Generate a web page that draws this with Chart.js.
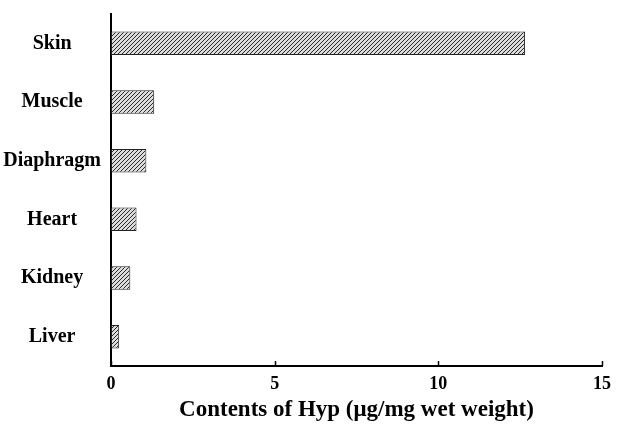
<!DOCTYPE html>
<html>
<head>
<meta charset="utf-8">
<script src="https://cdn.jsdelivr.net/npm/chart.js@4/dist/chart.umd.min.js"></script>
<style>
  html, body { margin: 0; padding: 0; background: #fff; }
  #wrap { width: 619px; height: 424px; }
</style>
</head>
<body>
<div id="wrap"><canvas id="hypChart" width="619" height="424"></canvas></div>
<script>
'use strict';

// tissues, top to bottom
var tissues = ['Skin', 'Muscle', 'Diaphragm', 'Heart', 'Kidney', 'Liver'];
// Hyp content, ug/mg wet weight
var hypValues = [12.65, 1.32, 1.08, 0.78, 0.59, 0.25];
var xTicks = [0, 5, 10, 15];
var xTitle = 'Contents of Hyp (\u03bcg/mg wet weight)';

var serif = '"Liberation Serif", "Times New Roman", serif';

// diagonal hatch for the bars
function makeHatch() {
  var c = document.createElement('canvas');
  c.width = 4; c.height = 4;
  var g = c.getContext('2d');
  g.fillStyle = '#dcdcdc';
  g.fillRect(0, 0, 4, 4);
  g.strokeStyle = '#2a2a2a';
  g.lineWidth = 1;
  g.beginPath();
  g.moveTo(0, 4); g.lineTo(4, 0);
  g.moveTo(-1, 1); g.lineTo(1, -1);
  g.moveTo(3, 5); g.lineTo(5, 3);
  g.stroke();
  return g.createPattern(c, 'repeat');
}

// small inward tick marks on the x axis
var innerTicks = {
  id: 'innerTicks',
  afterDraw: function(chart) {
    var sx = chart.scales.x;
    var ctx = chart.ctx;
    ctx.save();
    ctx.strokeStyle = '#000';
    ctx.lineWidth = 1.5;
    xTicks.forEach(function(v) {
      var px = Math.round(sx.getPixelForValue(v)) + 0.5;
      ctx.beginPath();
      ctx.moveTo(px, sx.top);
      ctx.lineTo(px, sx.top - 5);
      ctx.stroke();
    });
    ctx.restore();
  }
};

var ctx = document.getElementById('hypChart');
var hypChart = new Chart(ctx, {
  type: 'bar',
  data: {
    labels: tissues,
    datasets: [{
      data: hypValues,
      backgroundColor: makeHatch(),
      borderColor: '#222',
      borderWidth: 1,
      borderSkipped: false,
      barPercentage: 0.4,
      categoryPercentage: 1
    }]
  },
  options: {
    indexAxis: 'y',
    responsive: false,
    animation: false,
    devicePixelRatio: 1,
    layout: { padding: { top: 14, right: 16, left: 0, bottom: 0 } },
    plugins: {
      legend: { display: false },
      tooltip: { enabled: false }
    },
    scales: {
      x: {
        type: 'linear',
        min: 0,
        max: 15,
        afterBuildTicks: function(scale) {
          scale.ticks = xTicks.map(function(v) { return { value: v }; });
        },
        afterFit: function(scale) { scale.height = 58; },
        grid: { display: false, drawTicks: false },
        border: { display: true, color: '#000', width: 2 },
        ticks: {
          color: '#000',
          padding: 8,
          maxRotation: 0,
          font: { family: serif, size: 18, weight: 'bold' }
        },
        title: {
          display: true,
          text: xTitle,
          color: '#000',
          padding: { top: 4, bottom: 0 },
          font: { family: serif, size: 23, weight: 'bold' }
        }
      },
      y: {
        type: 'category',
        afterFit: function(scale) {
          scale.width = 111;
          scale.paddingTop = 0;
          scale.paddingBottom = 0;
        },
        grid: { display: false, drawTicks: false },
        border: { display: true, color: '#000', width: 2 },
        ticks: {
          color: '#000',
          padding: 10,
          crossAlign: 'center',
          font: { family: serif, size: 20, weight: 'bold' }
        }
      }
    }
  },
  plugins: [innerTicks]
});
</script>
</body>
</html>
